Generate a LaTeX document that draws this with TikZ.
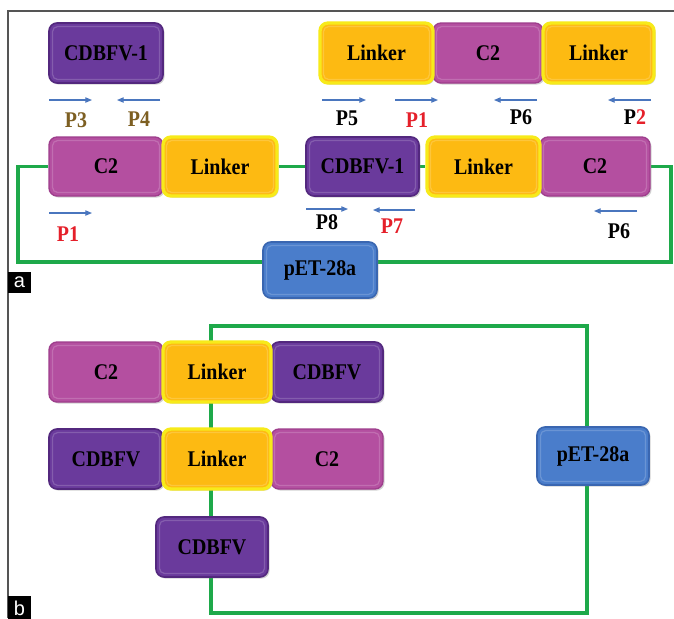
\documentclass[tikz,border=0pt]{standalone}
\usepackage{fontspec}
\setmainfont[FakeStretch=0.89]{Liberation Serif}
\setsansfont{Liberation Sans}
\usetikzlibrary{arrows.meta,shadows,backgrounds}
\definecolor{purp}{HTML}{6A3A9C}
\definecolor{purpd}{HTML}{53287E}
\definecolor{mag}{HTML}{B44FA0}
\definecolor{magd}{HTML}{9E3E8C}
\definecolor{lnk}{HTML}{FDBA12}
\definecolor{lnkb}{HTML}{F7EA1A}
\definecolor{pblue}{HTML}{4A7DCB}
\definecolor{pblued}{HTML}{3A66B0}
\definecolor{gline}{HTML}{1EA94A}
\definecolor{arr}{HTML}{4A76BE}
\definecolor{olive}{HTML}{7D5F22}
\definecolor{pred}{HTML}{E5202A}
\definecolor{framec}{HTML}{555555}
\begin{document}
\begin{tikzpicture}[x=0.75pt,y=-0.75pt,
  box/.style={rounded corners=6pt, minimum height=45pt, inner sep=0pt,
    font=\fontsize{16.8}{18}\selectfont\bfseries, text=black,
    drop shadow={shadow xshift=1.2pt,shadow yshift=-1.2pt,opacity=0.35},
    path picture={\draw[white, opacity=0.18, line width=0.9pt, rounded corners=4pt]
      ([shift={(2.6pt,-2.6pt)}]path picture bounding box.north west) rectangle
      ([shift={(-2.6pt,2.6pt)}]path picture bounding box.south east);}},
  cdb/.style={box, fill=purp, draw=purpd, line width=1.2pt},
  ctwo/.style={box, fill=mag, draw=magd, line width=1pt},
  lnkbox/.style={box, fill=lnk, draw=lnkb, line width=2.5pt},
  pet/.style={box, fill=pblue, draw=pblued, line width=1.2pt},
  gl/.style={draw=gline, line width=2.6pt},
  prim/.style={draw=arr, line width=0.8pt, -{Triangle[length=5pt,width=4pt]}},
  plab/.style={font=\fontsize{16.8}{18}\selectfont\bfseries, inner sep=0pt},
  tag/.style={fill=black, text=white, font=\sffamily\fontsize{15}{15}\selectfont,
    inner sep=0pt, minimum width=17.25pt, minimum height=15.75pt}
]
\useasboundingbox (0,0) rectangle (674,618);
\begin{pgfonlayer}{background}
\fill[white] (0,0) rectangle (674,618);
\end{pgfonlayer}
% frame
\draw[framec, line width=0.8pt] (8,618) -- (8,11) -- (674,11);

% ---------- panel a ----------
\node[cdb, minimum width=85.5pt] (cdA1) at (106,53) {CDBFV-1};
\node[ctwo, minimum width=82.5pt] (cA1) at (488,53) {C2};
\node[lnkbox, minimum width=84.75pt] (lA1) at (376.5,53) {Linker};
\node[lnkbox, minimum width=83.25pt] (lA2) at (598.5,53) {Linker};

\node[ctwo, minimum width=85.5pt, minimum height=44.25pt] (cA2) at (106,166.5) {C2};
\node[lnkbox, minimum width=85.5pt, minimum height=44.25pt] (lA3) at (220,166.5) {Linker};
\node[cdb, minimum width=84.75pt, minimum height=44.25pt] (cdA2) at (362.5,166.5) {CDBFV-1};
\node[ctwo, minimum width=82.5pt, minimum height=44.25pt] (cA3) at (595,166.5) {C2};
\node[lnkbox, minimum width=84.75pt, minimum height=44.25pt] (lA4) at (483.5,166.5) {Linker};

\node[pet, minimum width=85.5pt, minimum height=42pt] (petA) at (320,270) {pET-28a};

\coordinate (al1) at (18,166.5);
\coordinate (al2) at (18,262);
\coordinate (ar1) at (671,166.5);
\coordinate (ar2) at (671,262);
\begin{pgfonlayer}{background}
\draw[gl] (cA2.west) -- (al1) -- (al2) -- (al2 -| petA.west);
\draw[gl] (cA3.east) -- (ar1) -- (ar2) -- (ar2 -| petA.east);
\draw[gl] (lA3.east) -- (cdA2.west);
\draw[gl] (cdA2.east) -- (lA4.west);
\end{pgfonlayer}

% primers, top row
\draw[prim] (49,100) -- (92,100);
\draw[prim] (160,100) -- (117,100);
\draw[prim] (322,100) -- (366,100);
\draw[prim] (395,100) -- (438,100);
\draw[prim] (537,100) -- (494,100);
\draw[prim] (651,100) -- (608,100);
\node[plab, text=olive] (p3) at (76,120) {P3};
\node[plab, text=olive] (p4) at (139,119) {P4};
\node[plab] (p5) at (347,118) {P5};
\node[plab, text=pred] (p1a) at (417,120) {P1};
\node[plab] (p6a) at (521,117) {P6};
\node[plab] (p2) at (635,117) {P\textcolor{pred}{2}};
% primers, lower row
\draw[prim] (49,213) -- (92,213);
\draw[prim] (306,209) -- (348,209);
\draw[prim] (415,210) -- (373,210);
\draw[prim] (637,211) -- (594,211);
\node[plab, text=pred] (p1b) at (68,234) {P1};
\node[plab] (p8) at (327,222) {P8};
\node[plab, text=pred] (p7) at (392,226) {P7};
\node[plab] (p6b) at (619,231) {P6};

\node[tag] (taga) at (19.5,282.5) {a};

% ---------- panel b ----------
\node[ctwo, minimum width=85.5pt] (cB1) at (106,372) {C2};
\node[cdb, minimum width=84pt] (cdB1) at (327,372) {CDBFV};
\node[lnkbox, minimum width=81pt] (lB1) at (217,372) {Linker};
\node[cdb, minimum width=85.5pt] (cdB2) at (106,459) {CDBFV};
\node[ctwo, minimum width=84pt] (cB2) at (327,459) {C2};
\node[lnkbox, minimum width=81pt] (lB2) at (217,459) {Linker};
\node[cdb, minimum width=84pt] (cdB3) at (212,547) {CDBFV};
\node[pet, minimum width=84pt, minimum height=43.5pt] (petB) at (593,456) {pET-28a};

\coordinate (bbl) at (211,613);
\coordinate (bbr) at (587,613);
\coordinate (btl) at (211,326);
\coordinate (btr) at (587,326);
\begin{pgfonlayer}{background}
\draw[gl] (bbl |- cdB3.south) -- (bbl) -- (bbr) -- (bbr |- petB.south);
\draw[gl] (bbr |- petB.north) -- (btr) -- (btl) -- (btl |- cdB3.north);
\end{pgfonlayer}

\node[tag, minimum height=18pt] (tagb) at (19.5,608) {b};
\end{tikzpicture}
\end{document}
